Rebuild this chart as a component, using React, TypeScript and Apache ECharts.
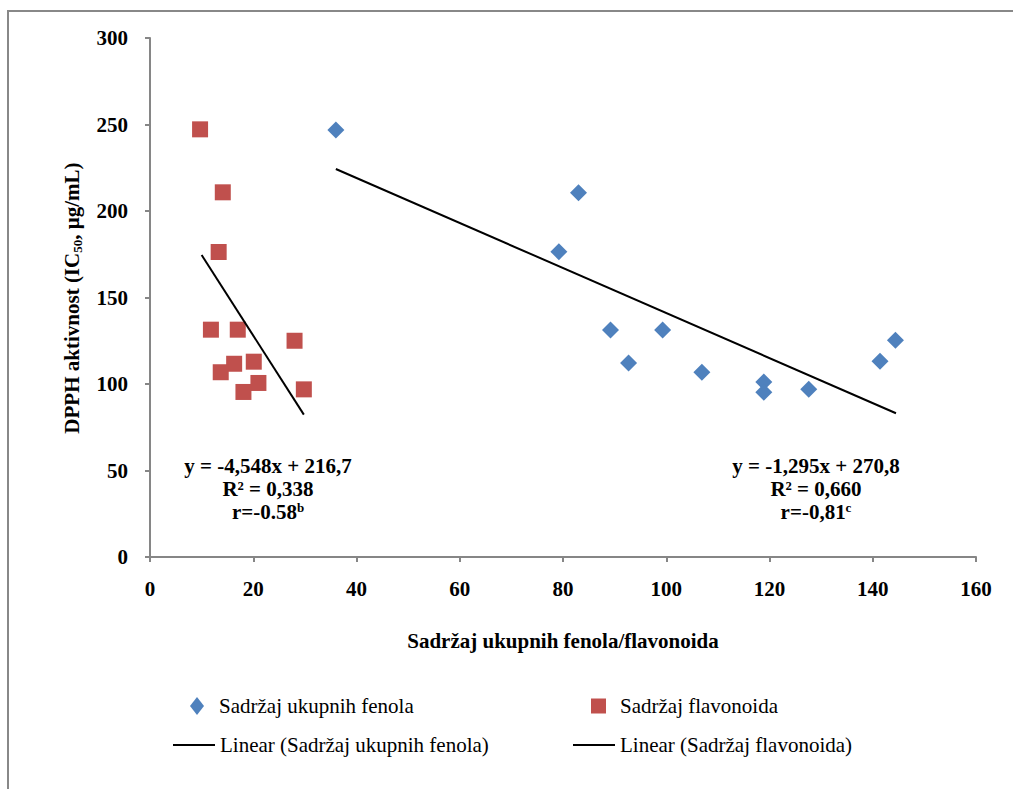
import React, { useEffect, useRef } from "react";
import * as echarts from "echarts";

const fenolX = [36.0, 83.0, 79.2, 89.2, 99.3, 92.7, 106.9, 118.9, 118.9, 127.6, 141.4, 144.4];
const fenolY = [246.8, 210.6, 176.5, 131.2, 131.2, 112.1, 106.8, 101.2, 95.2, 96.9, 113.1, 125.3];
const flavX = [9.7, 14.1, 13.3, 11.8, 17.0, 28.0, 16.3, 20.1, 13.7, 21.0, 18.1, 29.8];
const flavY = [247.2, 210.8, 176.3, 131.4, 131.4, 125.0, 111.7, 112.9, 106.8, 100.6, 95.4, 96.9];
const fenolTrendX = [36.0, 144.5];
const fenolTrendY = [224.3, 83.1];
const flavTrendX = [10.0, 29.8];
const flavTrendY = [174.6, 82.3];

const names = [
  "Sadržaj ukupnih fenola",
  "Sadržaj flavonoida",
  "Linear (Sadržaj ukupnih fenola)",
  "Linear (Sadržaj flavonoida)",
];
const xTitle = "Sadržaj ukupnih fenola/flavonoida";
const annLeft = ["y = -4,548x + 216,7", "R² = 0,338", "r=-0.58", "b"];
const annRight = ["y = -1,295x + 270,8", "R² = 0,660", "r=-0,81", "c"];

const FONT = "'Liberation Serif', 'Times New Roman', serif";

const zip = (xs: number[], ys: number[]) => xs.map((x, i) => [x, ys[i]]);

export default function App() {
  const ref = useRef<HTMLDivElement>(null);
  useEffect(() => {
    const chart = echarts.init(ref.current!, null, { renderer: "svg" });
    const axisColor = "#868686";
    const annText = (a: string[]) =>
      `{m|${a[0]}}\n{m|${a[1]}}\n{m|${a[2]}}{s|${a[3]}}`;
    const annRich = {
      m: { fontFamily: FONT, fontSize: 21, fontWeight: "bold", lineHeight: 23, color: "#000" },
      s: { fontFamily: FONT, fontSize: 13, fontWeight: "bold", lineHeight: 23, verticalAlign: "top", padding: [0, 0, 8, 0], color: "#000" },
    };
    const legendBase = {
      orient: "horizontal",
      padding: 0,
      itemGap: 0,
      textStyle: { fontFamily: FONT, fontSize: 21, color: "#000", lineHeight: 22 },
      selectedMode: false,
    };
    chart.setOption({
      animation: false,
      backgroundColor: "#fff",
      grid: { left: 150, top: 38, right: 37, bottom: 232 },
      xAxis: {
        type: "value",
        min: 0,
        max: 160,
        interval: 20,
        splitLine: { show: false },
        axisLine: { show: true, lineStyle: { color: axisColor, width: 2 } },
        axisTick: { show: true, length: 5, lineStyle: { color: axisColor, width: 2 } },
        axisLabel: { margin: 21, fontFamily: FONT, fontSize: 21, fontWeight: "bold", color: "#000" },
        name: xTitle,
        nameLocation: "middle",
        nameGap: 73,
        nameTextStyle: { fontFamily: FONT, fontSize: 21, fontWeight: "bold", color: "#000" },
      },
      yAxis: {
        type: "value",
        min: 0,
        max: 300,
        interval: 50,
        splitLine: { show: false },
        axisLine: { show: true, lineStyle: { color: axisColor, width: 2 } },
        axisTick: { show: true, length: 5, lineStyle: { color: axisColor, width: 2 } },
        axisLabel: { margin: 22, fontFamily: FONT, fontSize: 21, fontWeight: "bold", color: "#000" },
      },
      legend: [
        { ...legendBase, data: [{ name: names[0], icon: "diamond" }], left: 190, top: 695, itemWidth: 14, itemHeight: 18, textStyle: { ...legendBase.textStyle, padding: [0, 0, 0, 10] } },
        { ...legendBase, data: [{ name: names[1], icon: "rect" }], left: 591, top: 695, itemWidth: 15, itemHeight: 15, textStyle: { ...legendBase.textStyle, padding: [0, 0, 0, 9] } },
        { ...legendBase, data: [{ name: names[2], icon: "rect" }], left: 173, top: 734, itemWidth: 42, itemHeight: 2, itemStyle: { color: "#000" } },
        { ...legendBase, data: [{ name: names[3], icon: "rect" }], left: 573, top: 734, itemWidth: 42, itemHeight: 2, itemStyle: { color: "#000" } },
      ],
      series: [
        {
          name: names[0],
          type: "scatter",
          symbol: "diamond",
          symbolSize: 17,
          itemStyle: { color: "#4f81bd", opacity: 1 },
          data: zip(fenolX, fenolY),
          z: 2,
        },
        {
          name: names[1],
          type: "scatter",
          symbol: "rect",
          symbolSize: 16,
          itemStyle: { color: "#c0504d", opacity: 1 },
          data: zip(flavX, flavY),
          z: 2,
        },
        {
          name: names[2],
          type: "line",
          symbol: "none",
          showSymbol: false,
          lineStyle: { color: "#000", width: 2 },
          itemStyle: { color: "#000" },
          data: zip(fenolTrendX, fenolTrendY),
          z: 3,
        },
        {
          name: names[3],
          type: "line",
          symbol: "none",
          showSymbol: false,
          lineStyle: { color: "#000", width: 2 },
          itemStyle: { color: "#000" },
          data: zip(flavTrendX, flavTrendY),
          z: 3,
        },
      ],
      graphic: [
        {
          type: "rect",
          shape: { x: 8, y: 11, width: 1100, height: 900 },
          style: { fill: "none", stroke: "#888", lineWidth: 2 },
          z: -1,
          silent: true,
        },
        {
          type: "text",
          x: 72,
          y: 298,
          rotation: Math.PI / 2,
          style: {
            text: "{a|DPPH aktivnost (IC}{b|50}{a|, µg/mL)}",
            align: "center",
            verticalAlign: "middle",
            rich: {
              a: { fontFamily: FONT, fontSize: 21, fontWeight: "bold", color: "#000", lineHeight: 24 },
              b: { fontFamily: FONT, fontSize: 13, fontWeight: "bold", color: "#000", lineHeight: 24, verticalAlign: "bottom" },
            },
          },
        },
        {
          type: "text",
          x: 268,
          y: 489,
          style: { text: annText(annLeft), align: "center", verticalAlign: "middle", rich: annRich },
        },
        {
          type: "text",
          x: 816,
          y: 489,
          style: { text: annText(annRight), align: "center", verticalAlign: "middle", rich: annRich },
        },
      ],
    });
    return () => chart.dispose();
  }, []);
  return (
    <div
      ref={ref}
      style={{ position: "absolute", left: 0, top: 0, width: 1013, height: 789, background: "#fff" }}
    />
  );
}
